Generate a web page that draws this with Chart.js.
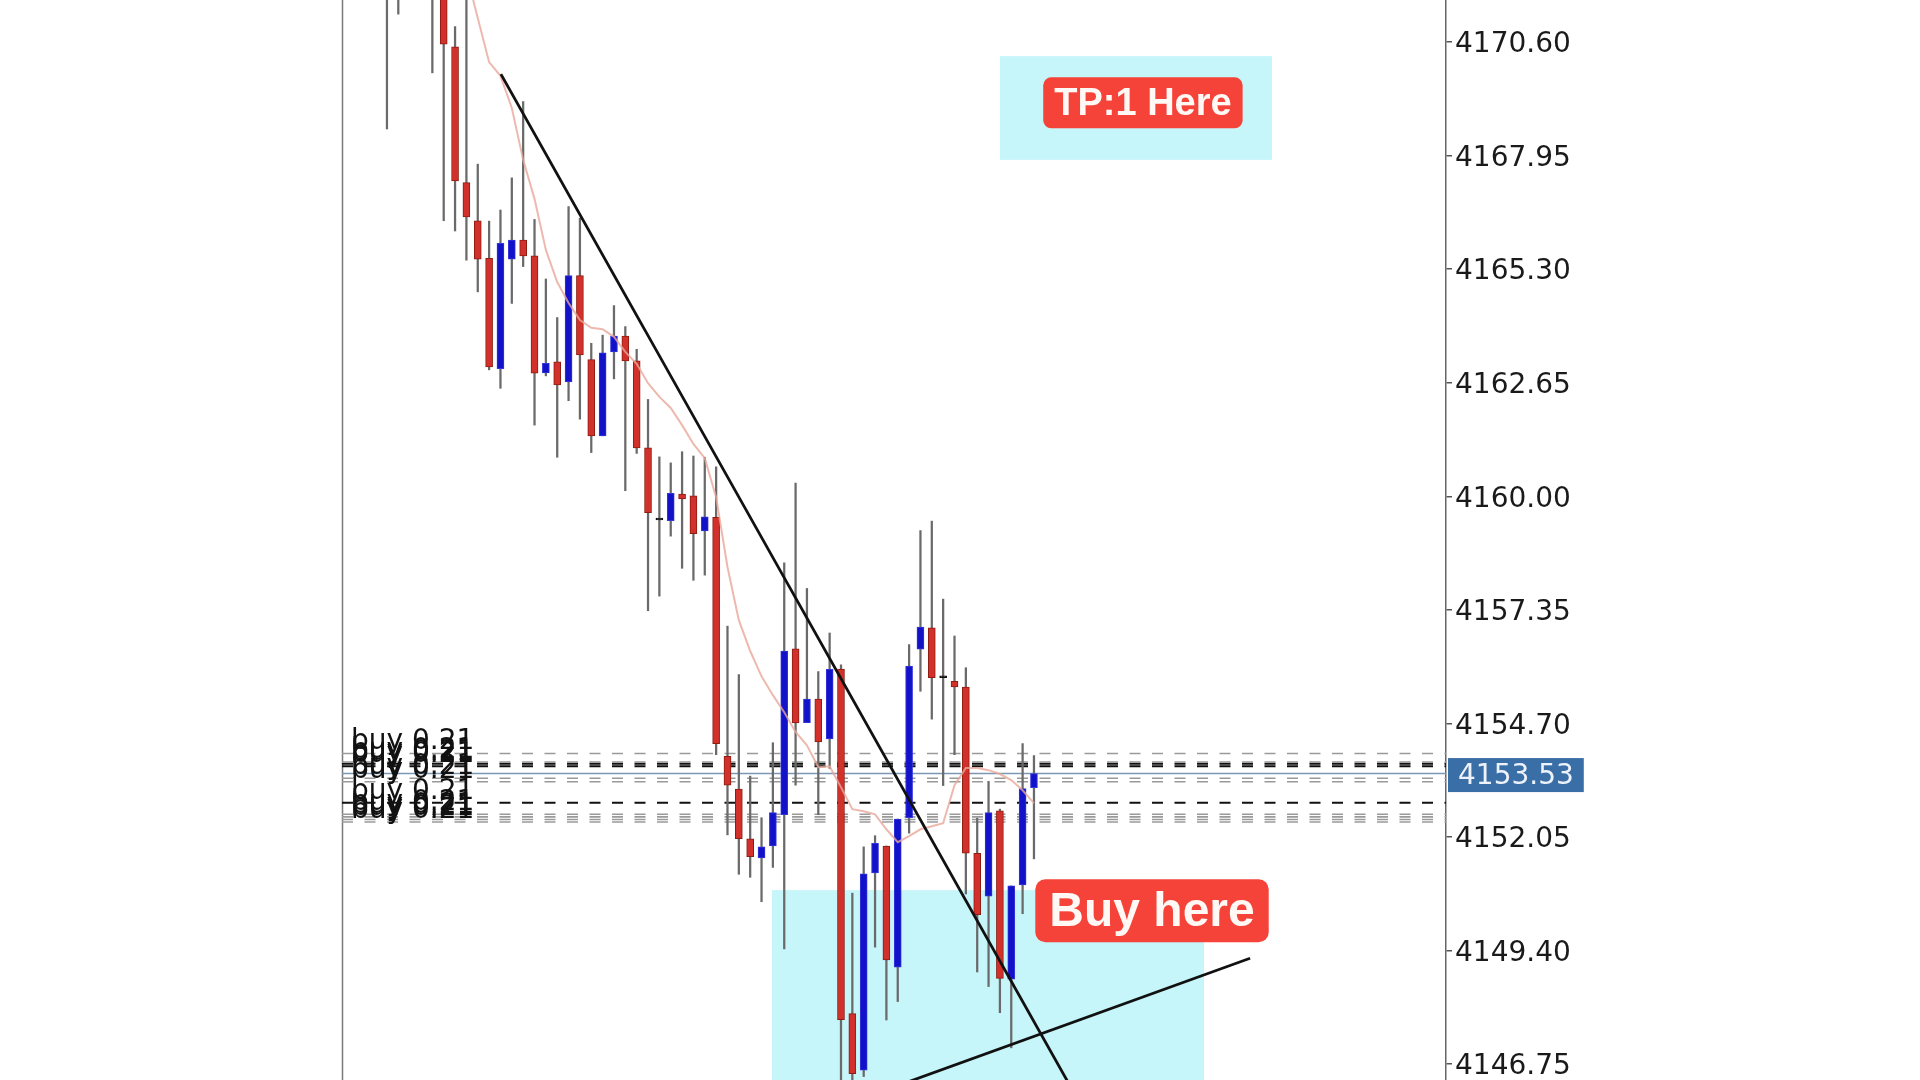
<!DOCTYPE html>
<html>
<head>
<meta charset="utf-8">
<script src="https://cdn.jsdelivr.net/npm/chart.js@4.4.1/dist/chart.umd.min.js"></script>
<style>
html,body{margin:0;padding:0;background:#ffffff;overflow:hidden}
#wrap{width:1920px;height:1080px;position:relative}
</style>
</head>
<body>
<div id="wrap"><canvas id="c"></canvas></div>
<script>
// ---------- DATA ----------
const barIndex = [0,1,2,3,4,5,6,7,8,9,10,11,12,13,14,15,16,17,18,19,20,21,22,23,24,25,26,27,28,29,30,31,32,33,34,35,36,37,38,39,40,41,42,43,44,45,46,47,48,49,50,51,52,53,54,55,56,57];
const opens  = [4173.5,4172.2,4172.9,4172.4,4172.0,4171.8,4170.49,4167.32,4166.43,4165.55,4162.98,4165.53,4165.98,4165.61,4162.88,4163.14,4162.67,4165.15,4163.19,4161.41,4163.37,4163.74,4163.16,4161.13,4159.47,4159.43,4160.05,4160.01,4159.19,4159.51,4153.93,4153.17,4152.01,4151.56,4151.84,4152.57,4156.44,4154.72,4155.27,4154.34,4155.97,4147.93,4146.61,4151.21,4151.84,4149.01,4152.50,4156.43,4156.93,4155.79,4155.68,4155.55,4151.67,4150.67,4152.66,4148.73,4150.93,4153.20];
const highs  = [4174.0,4173.8,4174.2,4173.4,4172.6,4172.2,4170.96,4171.8,4167.75,4166.42,4166.68,4167.43,4169.21,4166.46,4165.07,4164.17,4166.76,4166.49,4163.57,4163.76,4164.45,4163.96,4163.43,4162.26,4160.92,4160.78,4161.04,4160.94,4160.91,4160.69,4156.97,4155.84,4153.47,4152.50,4154.25,4158.45,4160.31,4157.85,4155.91,4156.81,4156.07,4150.74,4151.82,4152.08,4151.84,4152.47,4156.54,4159.20,4159.42,4157.60,4156.74,4156.00,4152.49,4153.35,4152.70,4150.91,4154.23,4153.95];
const lows   = [4168.57,4171.25,4171.9,4171.8,4169.88,4166.43,4166.19,4165.51,4164.77,4162.95,4162.52,4164.50,4165.36,4161.66,4162.81,4160.91,4162.23,4161.80,4161.02,4161.41,4162.74,4160.13,4161.00,4157.33,4157.67,4159.07,4158.32,4158.04,4158.16,4153.97,4152.10,4151.18,4151.11,4150.54,4151.34,4149.44,4153.26,4154.72,4152.57,4153.65,4146.0,4146.0,4146.46,4149.48,4147.78,4148.21,4152.14,4155.45,4154.80,4153.25,4153.97,4150.72,4148.90,4148.56,4147.95,4147.13,4150.26,4151.54];
const closes = [4172.2,4172.9,4172.4,4172.0,4171.8,4170.55,4167.36,4166.52,4165.53,4163.02,4165.90,4165.98,4165.61,4162.87,4163.10,4162.60,4165.15,4163.30,4161.41,4163.35,4163.74,4163.16,4161.13,4159.62,4159.47,4160.07,4159.94,4159.13,4159.52,4154.23,4153.26,4152.01,4151.59,4151.82,4152.62,4156.39,4154.71,4155.27,4154.27,4155.96,4147.79,4146.53,4151.19,4151.90,4149.18,4152.47,4156.04,4156.95,4155.77,4155.79,4155.55,4151.67,4150.24,4152.62,4148.75,4150.91,4153.18,4153.53];
const maValues = [4175.5,4175.0,4174.5,4174.0,4173.5,4173.1,4172.8,4172.2,4171.16,4170.13,4169.81,4169.06,4167.85,4166.94,4165.75,4165.00,4164.51,4164.11,4163.93,4163.90,4163.72,4163.37,4163.09,4162.64,4162.32,4162.06,4161.66,4161.22,4160.89,4159.98,4158.35,4157.11,4156.39,4155.80,4155.36,4154.96,4154.50,4154.19,4153.68,4153.70,4153.21,4152.70,4152.65,4152.58,4152.23,4151.93,4152.07,4152.23,4152.30,4152.37,4153.26,4153.66,4153.66,4153.61,4153.52,4153.38,4153.14,4152.84];
const yTickValues = [4146.75,4149.40,4152.05,4154.70,4157.35,4160.00,4162.65,4165.30,4167.95,4170.60];
const blackOrderLevels = [4153.76,4153.70,4152.85];
const grayOrderLevels  = [4154.00,4153.80,4153.42,4153.34,4152.58,4152.52,4152.46,4152.40];
const orderLabel = 'buy 0.21';
const trendDown = [[10.04,4169.85],[60.0,4146.33]];
const trendUp   = [[45.64,4146.31],[76.04,4149.22]];
const zoneBoxes = [[54.0,77.97,4167.85,4170.27],[33.92,71.98,4145.9,4150.81]];
const badgeTexts = ['TP:1 Here','Buy here'];
const badgeX = [66.6,67.4];
const badgeY = [4169.18,4150.33];
const currentPrice = closes[closes.length-1];

// ---------- CHART ----------
const RED='#d2302a', RED_B='#8e1c12', BLUE='#1212c8', BLUE_B='#3535dd';
const isDoji = i => opens[i] === closes[i];
const bodyColor = i => isDoji(i) ? '#111' : (closes[i] > opens[i] ? BLUE : RED);
const bodyBorder = i => isDoji(i) ? '#111' : (closes[i] > opens[i] ? BLUE_B : RED_B);

const wickData = barIndex.map(i => ({x:i, y:[lows[i], highs[i]]}));
const bodyData = barIndex.map(i => {
  const lo = Math.min(opens[i], closes[i]), hi = Math.max(opens[i], closes[i]);
  return isDoji(i) ? {x:i, y:[lo-0.02, hi+0.02]} : {x:i, y:[lo, hi]};
});
const maData = barIndex.map(i => ({x:i, y:maValues[i]}));

const X_MIN = -3.96, X_MAX = 93.3;
const hLine = (v, color, width, dash, order) => ({
  type:'line', data:[{x:X_MIN,y:v},{x:X_MAX,y:v}], borderColor:color, borderWidth:width,
  borderDash:dash, pointRadius:0, order:order, fill:false
});

const datasets = [
  {type:'line', data:trendDown.map(p=>({x:p[0],y:p[1]})), borderColor:'#111', borderWidth:2.8, pointRadius:0, order:0},
  {type:'line', data:trendUp.map(p=>({x:p[0],y:p[1]})), borderColor:'#111', borderWidth:2.8, pointRadius:0, order:0},
  {type:'line', data:maData, borderColor:'rgba(232,168,154,0.8)', borderWidth:2, pointRadius:0, tension:0, order:1},
  {type:'bar', data:bodyData, grouped:false, barThickness:7, borderWidth:1, borderSkipped:false,
   backgroundColor:c=>bodyColor(c.dataIndex), borderColor:c=>bodyBorder(c.dataIndex), order:2},
  {type:'bar', data:wickData, grouped:false, barThickness:1.6, borderWidth:0,
   backgroundColor:'#6a6a6a', order:3},
  ...grayOrderLevels.map(v=>hLine(v,'#9a9a9a',1.6,[11,11.5],4)),
  ...blackOrderLevels.map(v=>hLine(v,'#111111',2,[11,11.5],4)),
  hLine(currentPrice,'#7b97b4',1.6,[],4)
];

const overlay = {
  id:'overlay',
  beforeDatasetsDraw(chart){
    const {ctx, chartArea:a, scales:{x,y}} = chart;
    ctx.save();
    ctx.beginPath(); ctx.rect(a.left,a.top,a.right-a.left,a.bottom-a.top); ctx.clip();
    ctx.fillStyle='#c6f5fa';
    zoneBoxes.forEach(b=>{
      const x0=x.getPixelForValue(b[0]), x1=x.getPixelForValue(b[1]);
      const y0=y.getPixelForValue(b[3]), y1=y.getPixelForValue(b[2]);
      ctx.fillRect(x0,y0,x1-x0,y1-y0);
    });
    ctx.restore();
    ctx.save();
    ctx.strokeStyle='#7a7a7a'; ctx.lineWidth=1.5;
    ctx.beginPath(); ctx.moveTo(a.left+0.5,a.top); ctx.lineTo(a.left+0.5,a.bottom); ctx.stroke();
    ctx.restore();
  },
  afterDatasetsDraw(chart){
    const {ctx, chartArea:a, scales:{x,y}} = chart;
    ctx.save();
    ctx.font='28px "DejaVu Sans"';
    ctx.fillStyle='#111';
    ctx.textAlign='left'; ctx.textBaseline='alphabetic';
    [...grayOrderLevels, ...blackOrderLevels].forEach(v=>{
      ctx.fillText(orderLabel, a.left+9, y.getPixelForValue(v)-4);
    });
    const sizes=[38,48], padX=[11,14], hgt=[51,63], rad=[8,10];
    badgeTexts.forEach((t,k)=>{
      ctx.font='bold '+sizes[k]+'px "Liberation Sans"';
      const w=ctx.measureText(t).width+2*padX[k];
      const cx=x.getPixelForValue(badgeX[k]), cy=y.getPixelForValue(badgeY[k]);
      ctx.fillStyle='#f5433a';
      ctx.beginPath();
      ctx.roundRect(cx-w/2, cy-hgt[k]/2, w, hgt[k], rad[k]);
      ctx.fill();
      ctx.fillStyle='#fff8f4';
      ctx.textAlign='center'; ctx.textBaseline='middle';
      ctx.fillText(t, cx, cy+2);
    });
    ctx.restore();
  },
  afterDraw(chart){
    const {ctx, chartArea:a, scales:{y}} = chart;
    const py=y.getPixelForValue(currentPrice)+1.5;
    ctx.save();
    ctx.font='28px "DejaVu Sans"';
    const t=currentPrice.toFixed(2);
    const w=ctx.measureText(t).width+20;
    ctx.fillStyle='#3a6ea7';
    ctx.fillRect(a.right+2, py-17, w, 34);
    ctx.fillStyle='#eef3fb';
    ctx.textAlign='left'; ctx.textBaseline='middle';
    ctx.fillText(t, a.right+12, py+2);
    ctx.restore();
  }
};

new Chart(document.getElementById('c'), {
  data:{datasets},
  options:{
    responsive:true, maintainAspectRatio:false, animation:false,
    layout:{padding:{left:342,right:0,top:0,bottom:0}},
    plugins:{legend:{display:false}, tooltip:{enabled:false}},
    scales:{
      x:{type:'linear', min:X_MIN, max:X_MAX, display:false, offset:false,
         afterFit:s=>{ s.paddingLeft=0; s.paddingRight=0; }},
      y:{
        type:'linear', position:'right', min:4146.38, max:4171.58,
        afterBuildTicks:s=>{ s.ticks = yTickValues.map(v=>({value:v})); },
        afterFit:s=>{ s.width = 474; s.paddingTop = 0; s.paddingBottom = 0; },
        grid:{display:true, drawOnChartArea:false, drawTicks:true, tickLength:6, color:'#555', lineWidth:1.5},
        border:{display:true, color:'#666', width:1.5},
        ticks:{padding:3, labelOffset:3, color:'#1a1a1a', font:{family:'"DejaVu Sans"', size:28},
               callback:v=>Number(v).toFixed(2)}
      }
    }
  },
  plugins:[overlay]
});
</script>
</body>
</html>
